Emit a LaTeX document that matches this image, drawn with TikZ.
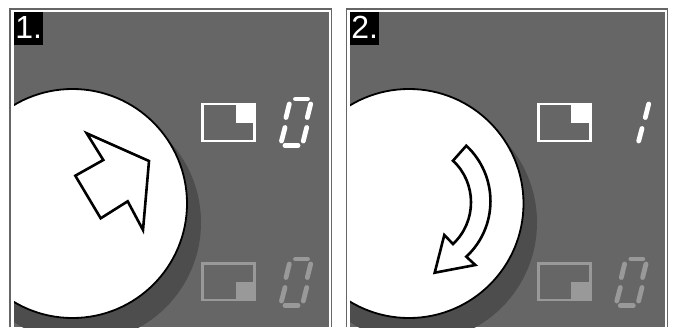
\documentclass[tikz,border=0pt]{standalone}
\usepackage{fontspec}
\setmainfont{Liberation Sans}
\definecolor{panelgray}{HTML}{666666}
\definecolor{shadowgray}{HTML}{4D4D4D}
\definecolor{dimgray}{HTML}{999999}
\tikzset{
  panelframe/.style={draw=panelgray,line width=1.8pt},
  panelback/.style={fill=panelgray},
  stepbadge/.style={fill=black,text=white,inner sep=0pt,anchor=north west,minimum width=29pt,minimum height=33pt,font=\fontsize{32}{32}\selectfont},
  knobshadow/.style={fill=shadowgray},
  knob/.style={fill=white,draw=black,line width=1.8pt},
  outlinearrow/.style={fill=white,draw=black,line width=2.6pt,miter limit=10},
  segment/.style={line width=4.8pt,line cap=round},
}
\newcommand{\zerodigit}[1]{%
  \draw[segment,#1] (295.5,99) -- (307.5,99);
  \draw[segment,#1] (285,145.7) -- (298,145.7);
  \draw[segment,#1] (289.3,104) -- (286,117.5);
  \draw[segment,#1] (310.7,104) -- (307.3,117.5);
  \draw[segment,#1] (285,127.5) -- (281.5,141);
  \draw[segment,#1] (306.7,127.5) -- (303.3,141);
}
\newcommand{\indicators}[1]{%
  \begin{scope}[xshift=#1]
    \draw[white,line width=2.6pt] (202.7,104) rectangle (254.7,141);
    \fill[white] (235.7,103) rectangle (255.7,122.5);
    \draw[dimgray,line width=2.6pt] (202.7,263.3) rectangle (254.7,300);
    \fill[dimgray] (235.7,281.5) rectangle (255.7,301);
  \end{scope}
}
\begin{document}
\begin{tikzpicture}[x=1pt,y=-1pt]
\useasboundingbox (0,0) rectangle (674,327);
\fill[white] (0,0) rectangle (674,327);
% panel 1
\draw[panelframe] (9.7,327) -- (9.7,8.7) -- (331.5,8.7) -- (331.5,327);
\fill[panelback] (14,12) rectangle (328.7,327);
\begin{scope}
  \clip (14,12) rectangle (328.7,327);
  \fill[knobshadow] (81,222.5) circle (120);
  \draw[knob] (72.5,203.5) circle (114.5);
\end{scope}
\draw[outlinearrow] (86.7,133.3) -- (149,161) -- (143,230) -- (127.7,201.3) -- (100.7,218.3) -- (75.3,175.7) -- (103.3,160) -- cycle;
\indicators{0pt}
\zerodigit{white}
\begin{scope}[yshift=-160pt]
  \zerodigit{dimgray}
\end{scope}
\node[stepbadge,text depth=3pt] (badgeone) at (14,12) {1.};
% panel 2
\draw[panelframe] (346.5,327) -- (346.5,8.7) -- (667.5,8.7) -- (667.5,327);
\fill[panelback] (350,12) rectangle (664.5,327);
\begin{scope}
  \clip (350,12) rectangle (664.5,327);
  \fill[knobshadow] (417,222.5) circle (120);
  \draw[knob] (409,203.5) circle (114.5);
\end{scope}
\draw[outlinearrow] (466.3,145.7) -- (453,160.7) .. controls (477,183) and (477,221.5) .. (453,244) -- (444.3,235) -- (434.7,272.7) -- (475.3,265) -- (466.3,256.7) .. controls (498.5,226.7) and (498.5,175.7) .. (466.3,145.7) -- cycle;
\indicators{335.7pt}
\draw[segment,white] (648.7,104) -- (645.3,117.5);
\draw[segment,white] (642,128.5) -- (638.7,141);
\begin{scope}[xshift=335.3pt,yshift=-160pt]
  \zerodigit{dimgray}
\end{scope}
\node[stepbadge,text depth=3pt] (badgetwo) at (350,12) {2.};
\end{tikzpicture}
\end{document}
